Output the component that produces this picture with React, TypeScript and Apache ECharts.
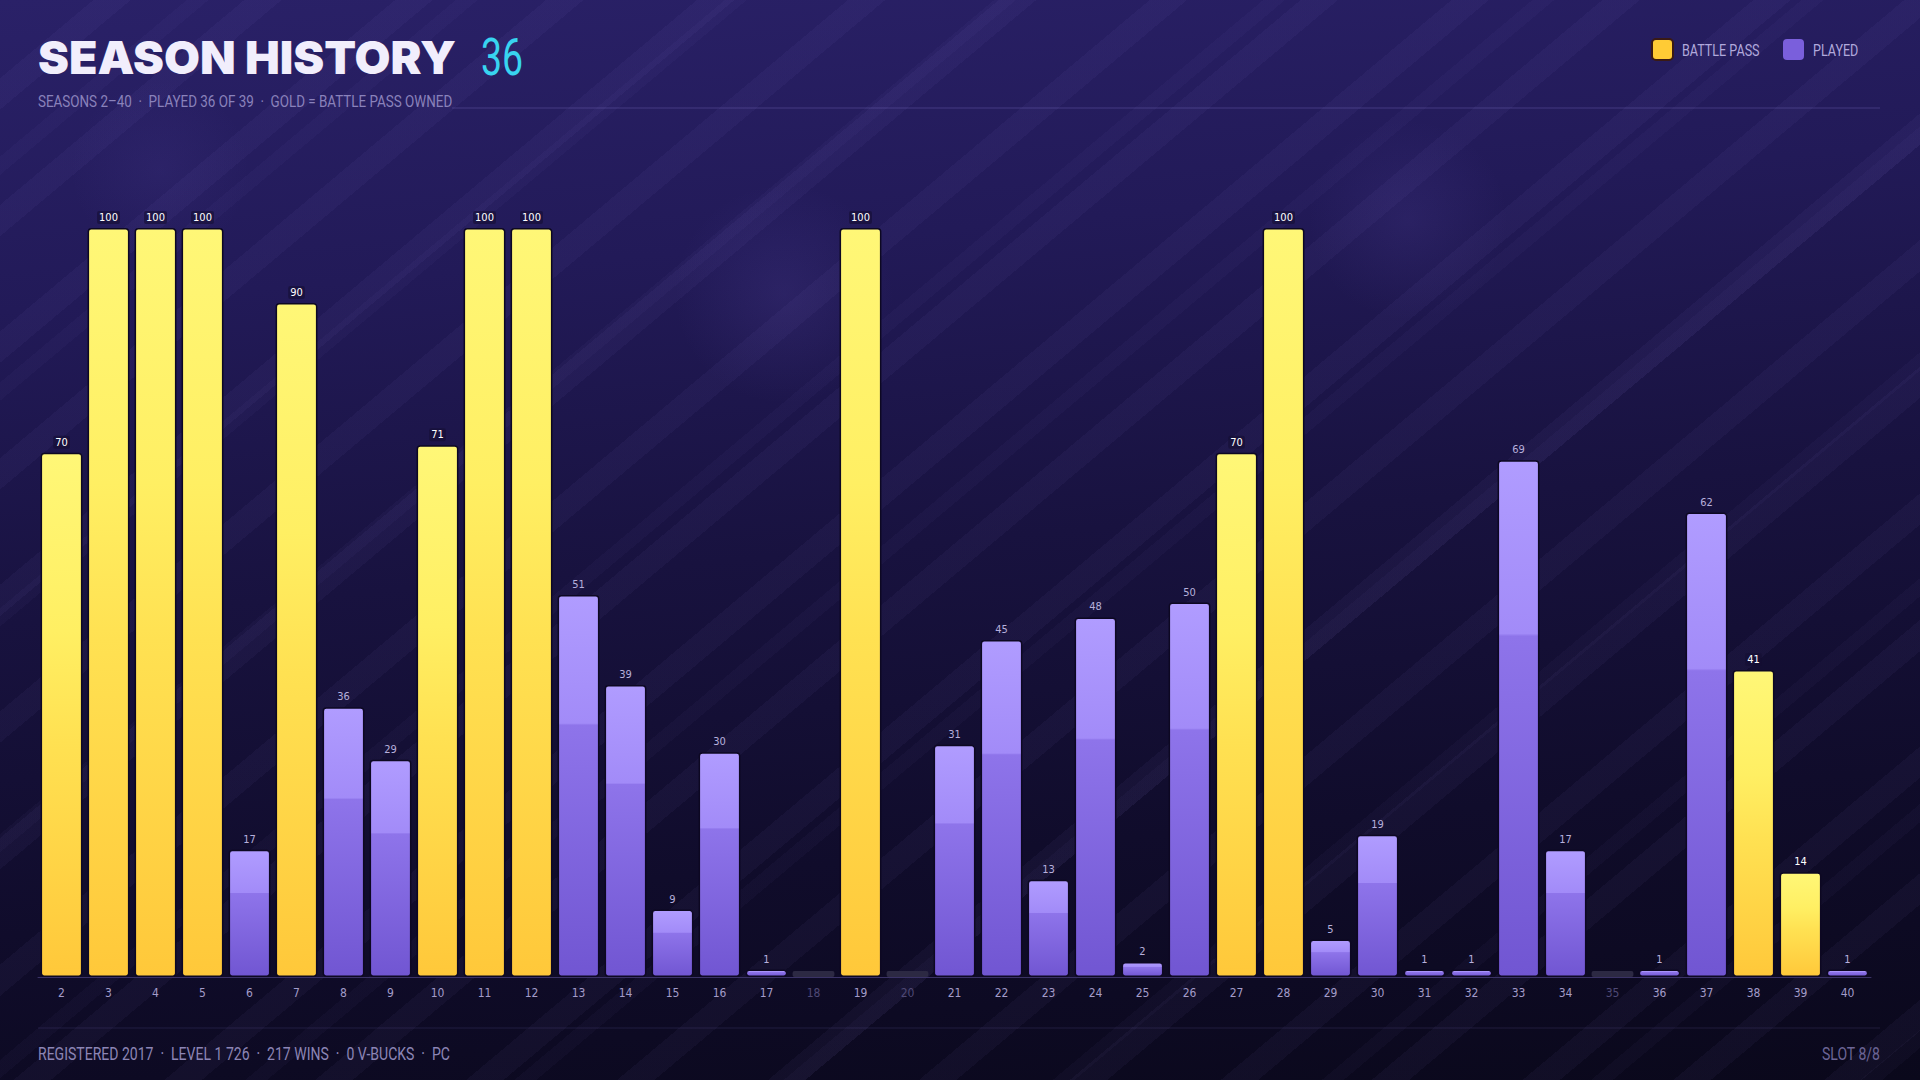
import React, { useEffect, useRef } from "react";
import * as echarts from "echarts";

const seasons = ["2","3","4","5","6","7","8","9","10","11","12","13","14","15","16","17","18","19","20","21","22","23","24","25","26","27","28","29","30","31","32","33","34","35","36","37","38","39","40"];
const values: (number | null)[] = [70,100,100,100,17,90,36,29,71,100,100,51,39,9,30,1,null,100,null,31,45,13,48,2,50,70,100,5,19,1,1,69,17,null,1,62,41,14,1];
const ownedPass = [true,true,true,true,false,true,false,false,true,true,true,false,false,false,false,false,false,true,false,false,false,false,false,false,false,true,true,false,false,false,false,false,false,false,false,false,true,true,false];
const legendNames = ["BATTLE PASS", "PLAYED"];
const legendColors = ["#ffcb35", "#7a5fdc"];
const titleText = "SEASON HISTORY";
const titleCount = "36";
const subtitleText = "SEASONS 2–40  ·  PLAYED 36 OF 39  ·  GOLD = BATTLE PASS OWNED";
const footerLeft = "REGISTERED 2017  ·  LEVEL 1 726  ·  217 WINS  ·  0 V-BUCKS  ·  PC";
const footerRight = "SLOT 8/8";

const COND = "'DejaVu Sans Condensed', 'Liberation Sans Narrow', Roboto, sans-serif";

export default function App() {
  const ref = useRef<HTMLDivElement>(null);
  useEffect(() => {
    document.body.style.margin = "0";
    const chart = echarts.init(ref.current!, null, { renderer: "svg" });
    const gold = new echarts.graphic.LinearGradient(0, 0, 0, 1, [
      { offset: 0, color: "#fff777" },
      { offset: 0.34, color: "#ffef63" },
      { offset: 0.55, color: "#ffe152" },
      { offset: 1, color: "#ffc83a" },
    ]);
    const purple = new echarts.graphic.LinearGradient(0, 0, 0, 1, [
      { offset: 0, color: "#b09cff" },
      { offset: 0.335, color: "#a28bf8" },
      { offset: 0.34, color: "#8e74ea" },
      { offset: 1, color: "#7156d2" },
    ]);
    const bpData = values.map((v, i) => (v != null && ownedPass[i] ? v : "-"));
    const playedData = values.map((v, i) => (v != null && !ownedPass[i] ? v : "-"));
    const missingData = values.map((v) => (v == null ? 0 : "-"));
    const missingSet = new Set(seasons.filter((_, i) => values[i] == null));
    const common = {
      type: "bar",
      barGap: "-100%",
      barCategoryGap: "11%",
    };
    const condText = (x: number, y: number, text: string, fill: string, fontSize: number, sx: number, align = "left") => ({
      type: "text",
      x,
      y,
      scaleX: sx,
      style: { text, fill, fontSize, fontFamily: "Roboto, sans-serif", verticalAlign: "middle", align },
    });
    chart.setOption({
      animation: false,
      backgroundColor: "transparent",
      grid: { left: 38, right: 49, top: 228, bottom: 103 },
      xAxis: {
        type: "category",
        data: seasons,
        axisLine: { lineStyle: { color: "#3a3266", width: 1 } },
        axisTick: { show: false },
        axisLabel: {
          margin: 10,
          fontSize: 12,
          fontFamily: COND,
          color: (val: string) => (missingSet.has(val) ? "#4f4975" : "#a39cc9"),
        },
      },
      yAxis: { type: "value", min: 0, max: 100, show: false, splitLine: { show: false } },
      graphic: [
        { type: "text", x: 38, y: 57, scaleX: 1.01, style: { text: titleText, fill: "#f1eefc", fontSize: 46, fontWeight: 900, fontFamily: "Inter, Lato, sans-serif", verticalAlign: "middle", align: "left" } },
        condText(481, 57, titleCount, "#38d4f0", 52, 0.72),
        condText(38, 101, subtitleText, "#8a82bb", 17, 0.79),
        { type: "line", shape: { x1: 452, y1: 108, x2: 1880, y2: 108 }, style: { stroke: "rgba(140,128,215,0.30)", lineWidth: 1 } },
        { type: "line", shape: { x1: 38, y1: 1028, x2: 1880, y2: 1028 }, style: { stroke: "rgba(140,128,215,0.16)", lineWidth: 1 } },
        condText(38, 1054, footerLeft, "#8c85b5", 18, 0.78),
        condText(1880, 1054, footerRight, "#6c6596", 18, 0.78, "right"),
        { type: "rect", shape: { x: 1652, y: 39, width: 21, height: 21, r: 4 }, style: { fill: legendColors[0], stroke: "#3a1a14", lineWidth: 2 } },
        condText(1682, 50, legendNames[0], "#b1a9dc", 17, 0.74),
        { type: "rect", shape: { x: 1783, y: 39, width: 21, height: 21, r: 4 }, style: { fill: legendColors[1] } },
        condText(1813, 50, legendNames[1], "#b1a9dc", 17, 0.74),
      ],
      series: [
        {
          ...common,
          name: legendNames[0],
          data: bpData,
          itemStyle: { color: gold, borderColor: "#0d0822", borderWidth: 1.5, borderRadius: 3 },
          label: {
            show: true,
            position: "top",
            distance: 4,
            color: "#ffffff",
            fontSize: 11,
            fontFamily: COND,
            backgroundColor: "rgba(20,14,50,0.6)",
            padding: [1, 2],
            borderRadius: 2,
          },
        },
        {
          ...common,
          name: legendNames[1],
          data: playedData,
          itemStyle: { color: purple, borderColor: "#0d0822", borderWidth: 1.5, borderRadius: 3 },
          label: {
            show: true,
            position: "top",
            distance: 5,
            color: "#b7b0dc",
            fontSize: 11,
            fontFamily: COND,
          },
        },
        {
          ...common,
          name: "missing",
          data: missingData,
          barMinHeight: 6,
          silent: true,
          itemStyle: { color: "#2c2943", borderRadius: 2 },
          label: { show: false },
        },
      ],
    });
    return () => chart.dispose();
  }, []);

  const bg = [
    "radial-gradient(circle at 784px 294px, rgba(120,100,210,0.13), rgba(0,0,0,0) 110px)",
    "radial-gradient(circle at 1408px 220px, rgba(120,100,210,0.11), rgba(0,0,0,0) 100px)",
    "radial-gradient(circle at 160px 170px, rgba(120,100,210,0.08), rgba(0,0,0,0) 90px)",
    "repeating-linear-gradient(140deg, rgba(255,255,255,0) 0px, rgba(255,255,255,0) 60px, rgba(170,150,255,0.045) 60px, rgba(170,150,255,0.045) 84px, rgba(255,255,255,0) 84px, rgba(255,255,255,0) 97px)",
    "repeating-linear-gradient(140deg, rgba(255,255,255,0) 0px, rgba(255,255,255,0) 120px, rgba(170,150,255,0.03) 120px, rgba(170,150,255,0.03) 134px, rgba(255,255,255,0) 134px, rgba(255,255,255,0) 173px)",
    "linear-gradient(175deg, #2a2168 0%, #221a58 25%, #18123f 50%, #100c2b 75%, #0a081b 100%)",
  ].join(", ");

  return (
    <div style={{ position: "fixed", left: 0, top: 0, width: 1920, height: 1080, background: bg }}>
      <div ref={ref} style={{ width: 1920, height: 1080 }} />
    </div>
  );
}
